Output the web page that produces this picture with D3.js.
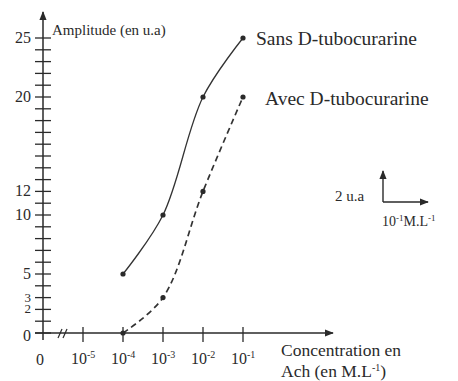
<!DOCTYPE html>
<html>
<head>
<meta charset="utf-8">
<script src="https://cdn.jsdelivr.net/npm/d3@7"></script>
<style>
  html, body { margin: 0; padding: 0; background: #fff; }
</style>
</head>
<body>
<svg id="chart" width="458" height="381" font-family="Liberation Serif, serif"></svg>
<script>
// Concentration ticks, as powers of ten
const exponents = [-5, -4, -3, -2, -1];
// Amplitude tick labels shown on the vertical axis
const yLabels = [0, 2, 3, 5, 10, 12, 20, 25];
// Minor ticks every unit
const yTicks = d3.range(0, 26);

// Response curves (exponent of concentration -> amplitude, u.a)
const sansExp = [-4, -3, -2, -1];
const sansVal = [5, 10, 20, 25];
const avecExp = [-4, -3, -2, -1];
const avecVal = [0, 3, 12, 20];

const svg = d3.select("#chart");
const ink = "#2a2a2a";
const serif = "Liberation Serif";

// origin of the axes sits one decade before 10^-5 (broken axis)
const x = d3.scaleLinear().domain([-6, -1]).range([43, 243]);
const y = d3.scaleLinear().domain([0, 25]).range([333, 38]);

function label(sel) {
  return sel.attr("font-family", serif).attr("fill", ink);
}

// arrow marker
const defs = svg.append("defs");
defs.append("marker").attr("id", "arr")
  .attr("viewBox", "0 0 10 10").attr("refX", 9).attr("refY", 5)
  .attr("markerWidth", 9).attr("markerHeight", 9).attr("markerUnits", "userSpaceOnUse")
  .attr("orient", "auto")
  .append("path").attr("d", "M0,1 L10,5 L0,9 Z").attr("fill", ink);

// Y axis line
svg.append("line").attr("x1", x(-6)).attr("x2", x(-6)).attr("y1", 340).attr("y2", 12)
  .attr("stroke", ink).attr("stroke-width", 1.5).attr("marker-end", "url(#arr)");
// X axis line
svg.append("line").attr("x1", 35).attr("x2", 333).attr("y1", y(0)).attr("y2", y(0))
  .attr("stroke", ink).attr("stroke-width", 1.5).attr("marker-end", "url(#arr)");

// Y ticks crossing the axis
svg.append("g").selectAll("line").data(yTicks).join("line")
  .attr("x1", x(-6) - 8).attr("x2", x(-6) + 8)
  .attr("y1", d => y(d)).attr("y2", d => y(d))
  .attr("stroke", ink).attr("stroke-width", 1.3);

// Y labels (2 and 3 are set tighter, they sit only one unit apart)
svg.append("g").selectAll("text").data(yLabels).join("text")
  .call(label)
  .attr("x", 31).attr("text-anchor", "end")
  .attr("font-size", d => (d === 2 || d === 3) ? 13 : 16)
  .attr("y", d => y(d) + (d === 0 ? 8 : (d === 2 || d === 3) ? 4 : 5))
  .text(d => d);

// X ticks
svg.append("g").selectAll("line").data(exponents).join("line")
  .attr("x1", d => x(d)).attr("x2", d => x(d))
  .attr("y1", y(0) - 6).attr("y2", y(0) + 9)
  .attr("stroke", ink).attr("stroke-width", 1.3);

// X labels: 10 with superscript exponent
const xl = svg.append("g").selectAll("text").data(exponents).join("text")
  .call(label)
  .attr("x", d => x(d) - 12).attr("y", 364).attr("font-size", 16);
xl.append("tspan").text("10");
xl.append("tspan").attr("dy", -6).attr("font-size", 10).text(d => "-" + (-d));
svg.append("text").call(label).attr("x", 40).attr("y", 365).attr("font-size", 16)
  .attr("text-anchor", "middle").text("0");

// axis break mark
[0, 5].forEach(o => {
  svg.append("line").attr("x1", 58 + o).attr("y1", 338).attr("x2", 62 + o).attr("y2", 329)
    .attr("stroke", ink).attr("stroke-width", 1.2);
});

// curves
const sans = sansExp.map((e, i) => [e, sansVal[i]]);
const avec = avecExp.map((e, i) => [e, avecVal[i]]);

svg.append("path").datum(sans)
  .attr("d", d3.line().x(d => x(d[0])).y(d => y(d[1])).curve(d3.curveCatmullRom.alpha(0.5)))
  .attr("fill", "none").attr("stroke", "#333").attr("stroke-width", 1.3);

svg.append("path").datum(avec)
  .attr("d", d3.line().x(d => x(d[0])).y(d => y(d[1])).curve(d3.curveCatmullRom.alpha(0.5)))
  .attr("fill", "none").attr("stroke", "#333").attr("stroke-width", 1.7)
  .attr("stroke-dasharray", "6,4");

svg.append("g").selectAll("circle").data(sans.concat(avec)).join("circle")
  .attr("cx", d => x(d[0])).attr("cy", d => y(d[1])).attr("r", 2.6).attr("fill", ink);

// titles and series names
svg.append("text").call(label).attr("x", 52).attr("y", 35).attr("font-size", 15).text("Amplitude (en u.a)");
svg.append("text").call(label).attr("x", 256).attr("y", 45).attr("font-size", 19.5).text("Sans D-tubocurarine");
svg.append("text").call(label).attr("x", 265).attr("y", 105).attr("font-size", 19.5).text("Avec D-tubocurarine");

svg.append("text").call(label).attr("x", 281).attr("y", 356).attr("font-size", 17.5).text("Concentration en");
const ach = svg.append("text").call(label).attr("x", 281).attr("y", 377).attr("font-size", 17.5);
ach.append("tspan").text("Ach (en M.L");
ach.append("tspan").attr("dy", -6).attr("font-size", 10).text("-1");
ach.append("tspan").attr("dy", 6).text(")");

// scale legend
svg.append("text").call(label).attr("x", 335).attr("y", 201).attr("font-size", 15).text("2 u.a");
svg.append("line").attr("x1", 383).attr("x2", 383).attr("y1", 202).attr("y2", 171)
  .attr("stroke", ink).attr("stroke-width", 1.4).attr("marker-end", "url(#arr)");
svg.append("line").attr("x1", 383).attr("x2", 428).attr("y1", 202).attr("y2", 202)
  .attr("stroke", ink).attr("stroke-width", 1.4).attr("marker-end", "url(#arr)");
const unit = svg.append("text").call(label).attr("x", 382).attr("y", 226).attr("font-size", 14);
unit.append("tspan").text("10");
unit.append("tspan").attr("dy", -5).attr("font-size", 9).text("-1");
unit.append("tspan").attr("dy", 5).text("M.L");
unit.append("tspan").attr("dy", -5).attr("font-size", 9).text("-1");
</script>
</body>
</html>
